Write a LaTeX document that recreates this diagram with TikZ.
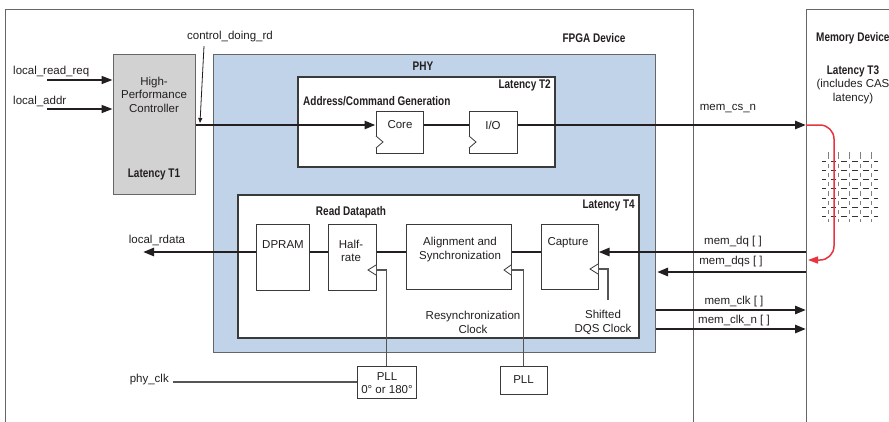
\documentclass[tikz,border=0pt]{standalone}
\usepackage{fontspec}
\setmainfont{Liberation Sans}
\newfontfamily\bcond{Liberation Sans}[FakeStretch=0.8]
\usetikzlibrary{arrows.meta}
\definecolor{phyblue}{HTML}{C1D3E8}
\definecolor{ctrlgray}{HTML}{D2D2D2}
\definecolor{txtc}{HTML}{231F20}
\definecolor{boxc}{HTML}{3A3A3A}
\definecolor{framec}{HTML}{666666}
\definecolor{clkc}{HTML}{555555}
\definecolor{redc}{HTML}{E8343E}
\tikzset{
  txt/.style={font=\fontsize{11.5}{13.5}\selectfont, text=txtc, inner sep=0pt, align=center},
  btxt/.style={font=\fontsize{12.5}{14}\selectfont\bcond\bfseries, text=txtc, inner sep=0pt},
  blk/.style={draw=boxc, line width=1pt, fill=white, inner sep=0pt},
  frame/.style={draw=framec, line width=1.2pt, inner sep=0pt, anchor=north west},
  bus/.style={draw=txtc, line width=2.6pt},
  busarr/.style={bus, -{Triangle[length=11pt,width=8pt]}},
  inarr/.style={draw=txtc, line width=1.6pt, -{Triangle[length=11pt,width=8pt]}},
  clk/.style={draw=clkc, line width=1.2pt},
  clktri/.style={draw=boxc, line width=0.8pt, fill=white},
  gridh/.style={draw=black!80, line width=1pt},
  gridv/.style={draw=black!50, line width=1pt}
}
\begin{document}
\begin{tikzpicture}[x=1pt,y=-1pt]
\useasboundingbox[fill=white] (0,0) rectangle (889,421);

% outer frames
\node[frame, minimum width=688, minimum height=440] (fpga) at (5,9) {};
\node[frame, minimum width=200, minimum height=440] (mem) at (806,9) {};
\node[btxt] (tfpga) at (594,38) {FPGA Device};
\node[btxt, anchor=west] (tmem) at (816,38) {Memory Device};
\node[btxt] (tlt3) at (853,71) {Latency T3};
\node[txt] (tcas) at (853,91.5) {(includes CAS\\latency)};

% controller
\node[draw=framec, line width=1pt, fill=ctrlgray, minimum width=82, minimum height=140, inner sep=0pt] (ctrl) at (154,124) {};
\node[txt] (tctrl) at (154,94.5) {High-\\Performance\\Controller};
\node[btxt] (tlt1) at (154,174) {Latency T1};

% PHY
\node[draw=framec, line width=1pt, fill=phyblue, minimum width=442, minimum height=298, inner sep=0pt] (phy) at (434,203) {};
\node[btxt] (tphy) at (423,66) {PHY};

% Address/Command Generation
\node[draw=boxc, line width=1.4pt, fill=white, minimum width=257, minimum height=90, inner sep=0pt] (acg) at (426.5,122) {};
\node[btxt, anchor=east] (tlt2) at (551,85) {Latency T2};
\node[btxt, anchor=west] (tacg) at (303,101) {Address/Command Generation};
\node[blk, minimum width=47, minimum height=42] (core) at (399.5,132) {};
\node[blk, minimum width=48, minimum height=42] (io) at (493,132) {};
\node[txt] (tcore) at (400,125) {Core};
\node[txt] (tio) at (493,125) {I/O};
\draw[clktri] (376,136) -- (383,142) -- (376,148);
\draw[clktri] (469,136) -- (476,142) -- (469,148);

% Read Datapath
\node[draw=boxc, line width=1.4pt, fill=white, minimum width=401, minimum height=143, inner sep=0pt] (rdp) at (438.5,266.5) {};
\node[btxt] (trdp) at (351,212) {Read Datapath};
\node[btxt, anchor=east] (tlt4) at (635,205) {Latency T4};
\node[blk, minimum width=53, minimum height=66] (dpram) at (282.5,257) {};
\node[blk, minimum width=48, minimum height=66] (half) at (352,257) {};
\node[blk, minimum width=105, minimum height=65] (align) at (458.5,256.5) {};
\node[blk, minimum width=57, minimum height=65] (capt) at (569.5,256.5) {};
\node[txt] (tdpram) at (283,245) {DPRAM};
\node[txt] (thalf) at (351,251) {Half-\\rate};
\node[txt] (talign) at (460,249.5) {Alignment and\\Synchronization};
\node[txt] (tcapt) at (568,243) {Capture};
\draw[clktri] (376,265) -- (368,270) -- (376,275);
\draw[clktri] (511,265) -- (504,270) -- (511,275);
\draw[clktri] (598,264) -- (590,269) -- (598,274);
\node[txt] (tresync) at (473,322.5) {Resynchronization\\Clock};
\node[txt] (tsdqs) at (603,322.5) {Shifted\\DQS Clock};

% PLLs
\node[blk, minimum width=59, minimum height=32] (pll1) at (386.5,382) {};
\node[txt] (tpll1) at (387,383) {PLL\\0\textdegree{} or 180\textdegree};
\node[blk, minimum width=47, minimum height=28] (pll2) at (523.5,380) {};
\node[txt] (tpll2) at (523.5,380) {PLL};
\node[txt, anchor=east] (tphyclk) at (169,380) {phy\_clk};
\coordinate (phyclkA) at (173,382);

% clock lines
\draw[clk] (half.east |- 0,270) -| (pll1.north);
\draw[clk] (align.east |- 0,270) -| (pll2.north);
\coordinate (sdqsEnd) at (608,300);
\draw[clk] (capt.east |- 0,269) -| (sdqsEnd);
\draw[clk] (phyclkA) -- (pll1.west);

% inputs to controller
\node[txt, anchor=west] (tlrq) at (13,72) {local\_read\_req};
\node[txt, anchor=west] (tla) at (13,101) {local\_addr};
\coordinate (lrqA) at (47,80);
\coordinate (laA) at (47,109);
\draw[inarr] (lrqA) -- (lrqA -| ctrl.west);
\draw[inarr] (laA) -- (laA -| ctrl.west);

% control_doing_rd
\node[txt] (tcdr) at (230,37) {control\_doing\_rd};
\coordinate (cdrA) at (204,46);
\coordinate (cdrB) at (200,123);
\draw[draw=txtc, line width=0.8pt, -{Triangle[length=5pt,width=4pt]}] (cdrA) -- (cdrB);

% command bus
\draw[busarr] (ctrl.east |- 0,125) -- (core.west |- 0,125);
\draw[bus] (core.east |- 0,125) -- (io.west |- 0,125);
\draw[busarr] (io.east |- 0,125) -- (mem.west |- 0,125);
\node[txt] (tcsn) at (728,109) {mem\_cs\_n};

% read bus
\draw[busarr] (mem.west |- 0,252) -- (capt.east |- 0,252);
\draw[bus] (capt.west |- 0,252) -- (align.east |- 0,252);
\draw[bus] (align.west |- 0,252) -- (half.east |- 0,252);
\draw[bus] (half.west |- 0,252) -- (dpram.east |- 0,252);
\coordinate (rdEnd) at (143,252);
\draw[busarr] (dpram.west |- 0,252) -- (rdEnd);
\node[txt] (trdata) at (157,240) {local\_rdata};
\node[txt] (tdq) at (733,242) {mem\_dq [ ]};

\coordinate (dqsEnd) at (657,272);
\draw[busarr] (mem.west |- dqsEnd) -- (dqsEnd);
\node[txt] (tdqs) at (731,262) {mem\_dqs [ ]};

\draw[busarr] (phy.east |- 0,310) -- (mem.west |- 0,310);
\draw[busarr] (phy.east |- 0,329) -- (mem.west |- 0,329);
\node[txt] (tclk) at (734,302) {mem\_clk [ ]};
\node[txt] (tclkn) at (734,321) {mem\_clk\_n [ ]};

% memory array grid
\foreach \yy in {161,170.3,179.6,188.9,198.2,207.5,216.8}{
  \foreach \xa/\xb in {822/825.5, 830.5/836.25, 841.25/847, 852/857.75, 862.75/868.5, 873.5/878}{
    \draw[gridh] (\xa,\yy) -- (\xb,\yy);}}
\foreach \xx in {828,838.75,849.5,860.25,871}{
  \foreach \ya/\yb in {152/158.5, 163.5/167.8, 172.8/177.1, 182.1/186.4, 191.4/195.7, 200.7/205, 210/214.3, 219.3/222}{
    \draw[gridv] (\xx,\ya) -- (\xx,\yb);}}

% latency path
\coordinate (redEnd) at (808,260);
\draw[draw=redc, line width=1.5pt, rounded corners=14pt, -{Triangle[length=10pt,width=7pt]}]
  (mem.west |- 0,125) -- (834,125) -- (834,260) -- (redEnd);
\end{tikzpicture}
\end{document}
